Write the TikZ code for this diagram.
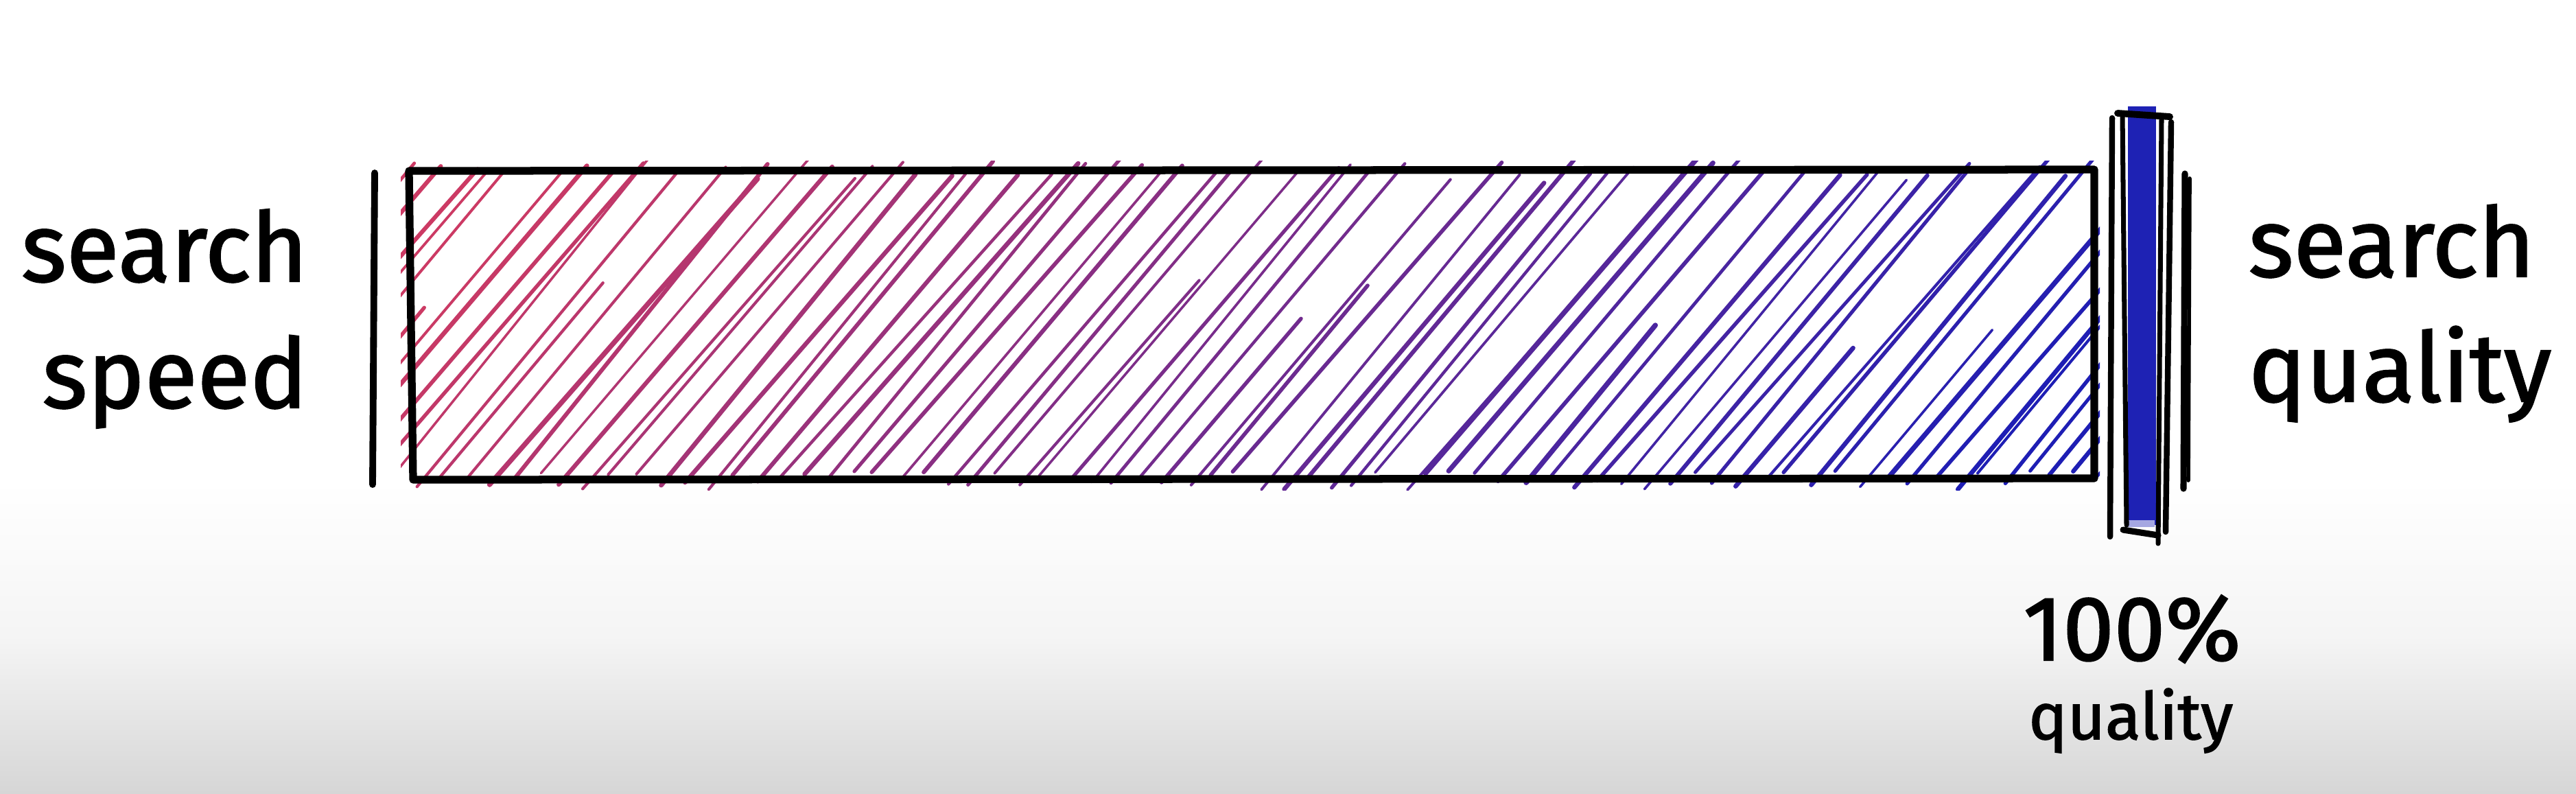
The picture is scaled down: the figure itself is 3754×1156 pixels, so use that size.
\documentclass[tikz,border=0pt]{standalone}
\usepackage{fontspec}
\setmainfont{Fira Sans}
\newfontfamily\mano{Fira Sans}[UprightFeatures={FakeBold=1.6}]
\usepackage{xcolor}
\usepackage{tikz}
\usetikzlibrary{positioning,calc}
\definecolor{crojo}{HTML}{CC3A64}
\definecolor{cazul}{HTML}{1E1EB4}
\definecolor{cbarra}{HTML}{1E22B4}
\definecolor{cfondo}{HTML}{D6D6D6}
\tikzset{
  trazo/.style={line width=3.2pt, line cap=round, line join=round, draw=black},
  trazof/.style={line width=2.4pt, line cap=round, draw=black},
  raya/.style={line cap=round},
  etq/.style={font=\mano\fontsize{40}{48}\selectfont, inner sep=0pt},
  etqn/.style={font=\mano\fontsize{38}{44}\selectfont, inner sep=0pt},
  etqp/.style={font=\mano\fontsize{27}{32}\selectfont, inner sep=0pt},
}

\begin{document}
\begin{tikzpicture}[x=0.01cm, y=-0.01cm]
  \useasboundingbox (0,0) rectangle (3754,1156);
  \fill[white] (0,0) rectangle (3754,1156);
  \shade[top color=white, bottom color=cfondo, middle color=black!4] (0,700) rectangle (3754,1156);

  \coordinate (bi) at (596,249);
  \coordinate (bd) at (3052,697);

  \pgfmathsetseed{11}
  \begin{scope}
    \clip (584,234) rectangle (3060,714);
    \foreach \i in {0,...,82}{
      \pgfmathsetmacro\xb{190+35*\i+12*rnd-6}
      \pgfmathsetmacro\p{100*max(0,min(1,(\xb+190-594)/2458))}
      \pgfmathsetmacro\lw{1.0+1.1*rnd}
      \pgfmathsetmacro\yb{700+14-28*rnd}
      \pgfmathsetmacro\f{rnd<0.15 ? 0.45+0.35*rnd : 1}
      \pgfmathsetmacro\dx{(385+30*rnd-15)*\f}
      \pgfmathsetmacro\yt{\yb-(455+20*rnd-10)*\f}
      \draw[raya, line width=\lw pt, draw=cazul!\p!crojo] (\xb,\yb) -- ++(\dx,\yt-\yb);
    }
  \end{scope}

  \draw[trazo] (bi) -- (3052,247) -- (bd) -- (602,699) -- cycle;

  \draw[trazo, line width=2.8pt] (546,252) -- (543,706);

  \fill[cbarra] (3101,155) rectangle (3142,765);
  \fill[white!60!cbarra] (3100,758) rectangle (3140,768);
  \draw[trazof] (3078,172) -- (3075,782);
  \draw[trazof, line width=2pt] (3093,168) -- (3099,765);
  \draw[trazof, line width=2pt] (3150,172) -- (3145,792);
  \draw[trazof] (3164,178) -- (3156,775);
  \draw[trazof, line width=2.8pt] (3086,165) -- (3162,170);
  \draw[trazof, line width=2.6pt] (3094,772) -- (3145,780);

  \draw[trazo, line width=2.6pt] (3184,253) -- (3182,712);
  \draw[trazof, line width=1.6pt] (3191,260) -- (3189,700);

  \node[etq, anchor=base east] (busq) at (449,410) {search};
  \node[etq, anchor=base east] (vel) at ($(busq.base east)+(0,184)$) {speed};
  \node[etq, anchor=base west] (busq2) at (3276,403) {search};
  \node[etq, anchor=base west] (cal) at ($(busq2.base west)+(0,182)$) {quality};
  \node[etqn, anchor=base] (cien) at (3107,962) {100\%};
  \node[etqp, anchor=base] (calp) at (3105,1077) {quality};
\end{tikzpicture}
\end{document}
